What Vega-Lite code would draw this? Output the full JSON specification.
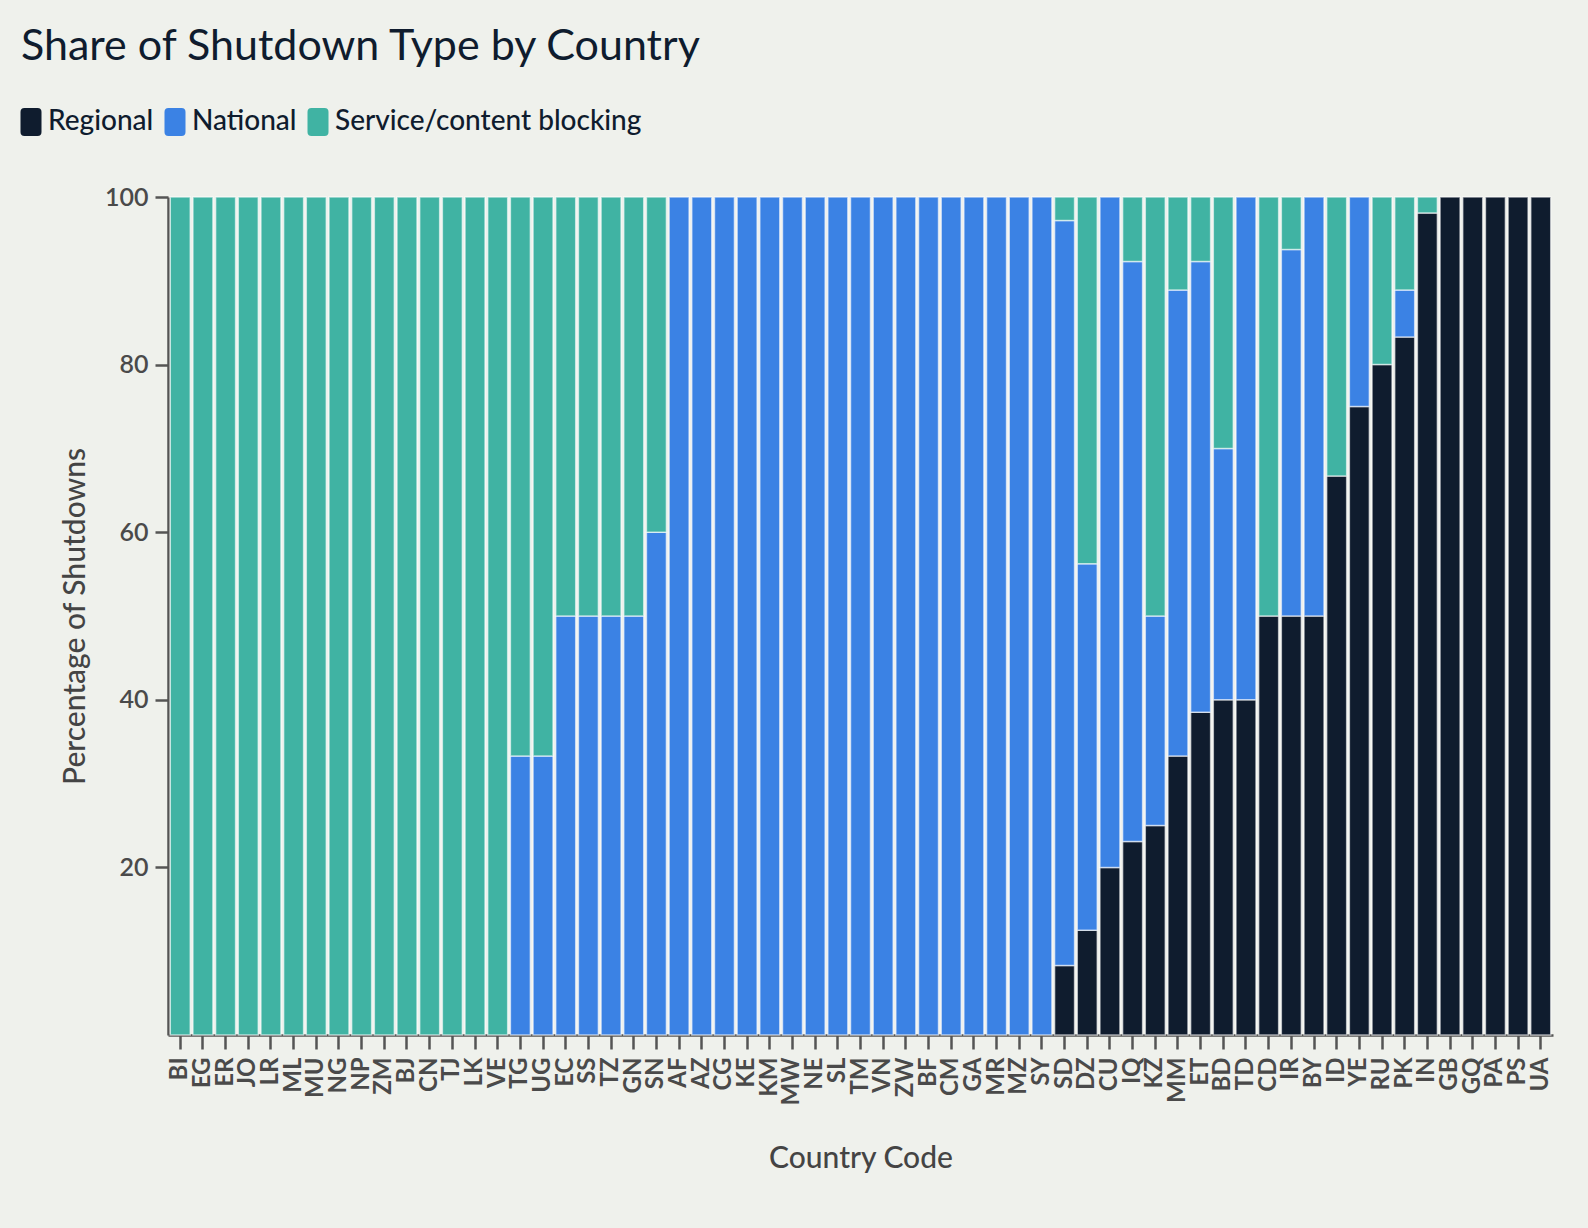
{
  "$schema": "https://vega.github.io/schema/vega-lite/v6.json",
  "width": 1385,
  "height": 838,
  "padding": {"left": 17, "top": 26, "right": 35, "bottom": 56},
  "background": "#eff1ec",
  "title": {
    "text": "Share of Shutdown Type by Country",
    "anchor": "start",
    "frame": "bounds",
    "font": "Lato",
    "fontSize": 43,
    "fontWeight": "normal",
    "color": "#0f1c2e",
    "dx": 4,
    "offset": 39
  },
  "config": {
    "view": {"stroke": null},
    "font": "Lato"
  },
  "data": {
    "values": [
      {"country": "BI", "type": "Service/content blocking", "pct": 100},
      {"country": "EG", "type": "Service/content blocking", "pct": 100},
      {"country": "ER", "type": "Service/content blocking", "pct": 100},
      {"country": "JO", "type": "Service/content blocking", "pct": 100},
      {"country": "LR", "type": "Service/content blocking", "pct": 100},
      {"country": "ML", "type": "Service/content blocking", "pct": 100},
      {"country": "MU", "type": "Service/content blocking", "pct": 100},
      {"country": "NG", "type": "Service/content blocking", "pct": 100},
      {"country": "NP", "type": "Service/content blocking", "pct": 100},
      {"country": "ZM", "type": "Service/content blocking", "pct": 100},
      {"country": "BJ", "type": "Service/content blocking", "pct": 100},
      {"country": "CN", "type": "Service/content blocking", "pct": 100},
      {"country": "TJ", "type": "Service/content blocking", "pct": 100},
      {"country": "LK", "type": "Service/content blocking", "pct": 100},
      {"country": "VE", "type": "Service/content blocking", "pct": 100},
      {"country": "TG", "type": "National", "pct": 33.3},
      {"country": "TG", "type": "Service/content blocking", "pct": 66.7},
      {"country": "UG", "type": "National", "pct": 33.3},
      {"country": "UG", "type": "Service/content blocking", "pct": 66.7},
      {"country": "EC", "type": "National", "pct": 50},
      {"country": "EC", "type": "Service/content blocking", "pct": 50},
      {"country": "SS", "type": "National", "pct": 50},
      {"country": "SS", "type": "Service/content blocking", "pct": 50},
      {"country": "TZ", "type": "National", "pct": 50},
      {"country": "TZ", "type": "Service/content blocking", "pct": 50},
      {"country": "GN", "type": "National", "pct": 50},
      {"country": "GN", "type": "Service/content blocking", "pct": 50},
      {"country": "SN", "type": "National", "pct": 60},
      {"country": "SN", "type": "Service/content blocking", "pct": 40},
      {"country": "AF", "type": "National", "pct": 100},
      {"country": "AZ", "type": "National", "pct": 100},
      {"country": "CG", "type": "National", "pct": 100},
      {"country": "KE", "type": "National", "pct": 100},
      {"country": "KM", "type": "National", "pct": 100},
      {"country": "MW", "type": "National", "pct": 100},
      {"country": "NE", "type": "National", "pct": 100},
      {"country": "SL", "type": "National", "pct": 100},
      {"country": "TM", "type": "National", "pct": 100},
      {"country": "VN", "type": "National", "pct": 100},
      {"country": "ZW", "type": "National", "pct": 100},
      {"country": "BF", "type": "National", "pct": 100},
      {"country": "CM", "type": "National", "pct": 100},
      {"country": "GA", "type": "National", "pct": 100},
      {"country": "MR", "type": "National", "pct": 100},
      {"country": "MZ", "type": "National", "pct": 100},
      {"country": "SY", "type": "National", "pct": 100},
      {"country": "SD", "type": "Regional", "pct": 8.3},
      {"country": "SD", "type": "National", "pct": 88.9},
      {"country": "SD", "type": "Service/content blocking", "pct": 2.8},
      {"country": "DZ", "type": "Regional", "pct": 12.5},
      {"country": "DZ", "type": "National", "pct": 43.75},
      {"country": "DZ", "type": "Service/content blocking", "pct": 43.75},
      {"country": "CU", "type": "Regional", "pct": 20},
      {"country": "CU", "type": "National", "pct": 80},
      {"country": "IQ", "type": "Regional", "pct": 23.1},
      {"country": "IQ", "type": "National", "pct": 69.2},
      {"country": "IQ", "type": "Service/content blocking", "pct": 7.7},
      {"country": "KZ", "type": "Regional", "pct": 25},
      {"country": "KZ", "type": "National", "pct": 25},
      {"country": "KZ", "type": "Service/content blocking", "pct": 50},
      {"country": "MM", "type": "Regional", "pct": 33.3},
      {"country": "MM", "type": "National", "pct": 55.6},
      {"country": "MM", "type": "Service/content blocking", "pct": 11.1},
      {"country": "ET", "type": "Regional", "pct": 38.5},
      {"country": "ET", "type": "National", "pct": 53.8},
      {"country": "ET", "type": "Service/content blocking", "pct": 7.7},
      {"country": "BD", "type": "Regional", "pct": 40},
      {"country": "BD", "type": "National", "pct": 30},
      {"country": "BD", "type": "Service/content blocking", "pct": 30},
      {"country": "TD", "type": "Regional", "pct": 40},
      {"country": "TD", "type": "National", "pct": 60},
      {"country": "CD", "type": "Regional", "pct": 50},
      {"country": "CD", "type": "Service/content blocking", "pct": 50},
      {"country": "IR", "type": "Regional", "pct": 50},
      {"country": "IR", "type": "National", "pct": 43.75},
      {"country": "IR", "type": "Service/content blocking", "pct": 6.25},
      {"country": "BY", "type": "Regional", "pct": 50},
      {"country": "BY", "type": "National", "pct": 50},
      {"country": "ID", "type": "Regional", "pct": 66.7},
      {"country": "ID", "type": "Service/content blocking", "pct": 33.3},
      {"country": "YE", "type": "Regional", "pct": 75},
      {"country": "YE", "type": "National", "pct": 25},
      {"country": "RU", "type": "Regional", "pct": 80},
      {"country": "RU", "type": "Service/content blocking", "pct": 20},
      {"country": "PK", "type": "Regional", "pct": 83.3},
      {"country": "PK", "type": "National", "pct": 5.6},
      {"country": "PK", "type": "Service/content blocking", "pct": 11.1},
      {"country": "IN", "type": "Regional", "pct": 98.1},
      {"country": "IN", "type": "Service/content blocking", "pct": 1.9},
      {"country": "GB", "type": "Regional", "pct": 100},
      {"country": "GQ", "type": "Regional", "pct": 100},
      {"country": "PA", "type": "Regional", "pct": 100},
      {"country": "PS", "type": "Regional", "pct": 100},
      {"country": "UA", "type": "Regional", "pct": 100}
    ]
  },
  "transform": [
    {"calculate": "indexof(['Regional', 'National', 'Service/content blocking'], datum.type)", "as": "stack_rank"}
  ],
  "mark": {
    "type": "bar",
    "stroke": "#ffffff",
    "strokeOpacity": 0.6,
    "strokeWidth": 1.5
  },
  "encoding": {
    "x": {
      "field": "country",
      "type": "nominal",
      "sort": null,
      "title": "Country Code",
      "scale": {"paddingInner": 0.12, "paddingOuter": 0.1},
      "axis": {
        "labelAngle": -90,
        "labelFontSize": 24,
        "labelFontWeight": "bold",
        "labelColor": "#4a4a4a",
        "labelPadding": 8,
        "tickSize": 14,
        "tickWidth": 2.5,
        "tickColor": "#555555",
        "domainColor": "#555555",
        "domainWidth": 2.5,
        "titleFontSize": 30,
        "titleFontWeight": 500,
        "titleColor": "#444444",
        "titlePadding": 39
      }
    },
    "y": {
      "field": "pct",
      "type": "quantitative",
      "stack": "zero",
      "title": "Percentage of Shutdowns",
      "scale": {"domain": [0, 100]},
      "axis": {
        "values": [20, 40, 60, 80, 100],
        "grid": false,
        "labelFontSize": 25,
        "labelFontWeight": 600,
        "labelColor": "#4a4a4a",
        "labelPadding": 7,
        "tickSize": 13,
        "tickWidth": 2.5,
        "tickColor": "#555555",
        "domainColor": "#555555",
        "domainWidth": 2.5,
        "titleFontSize": 30,
        "titleFontWeight": 500,
        "titleColor": "#444444",
        "titlePadding": 14
      }
    },
    "order": {"field": "stack_rank", "type": "quantitative", "sort": "ascending"},
    "color": {
      "field": "type",
      "type": "nominal",
      "scale": {
        "domain": ["Regional", "National", "Service/content blocking"],
        "range": ["#0f1c2e", "#3b82e4", "#40b3a3"]
      },
      "legend": {
        "title": null,
        "orient": "none",
        "direction": "horizontal",
        "legendX": -151,
        "legendY": -89,
        "padding": 0,
        "symbolType": "M-0.47,-1H0.47Q0.75,-1,0.75,-0.72V0.72Q0.75,1,0.47,1H-0.47Q-0.75,1,-0.75,0.72V-0.72Q-0.75,-1,-0.47,-1Z",
        "symbolSize": 784,
        "symbolOpacity": 1,
        "symbolStrokeWidth": 0,
        "labelFontSize": 28,
        "labelFontWeight": 500,
        "labelColor": "#0f1c2e",
        "labelLimit": 0,
        "labelOffset": 3,
        "columnPadding": 7
      }
    },
    "tooltip": [
      {"field": "country", "type": "nominal", "title": "Country"},
      {"field": "type", "type": "nominal", "title": "Type"},
      {"field": "pct", "type": "quantitative", "title": "Percentage"}
    ]
  }
}
